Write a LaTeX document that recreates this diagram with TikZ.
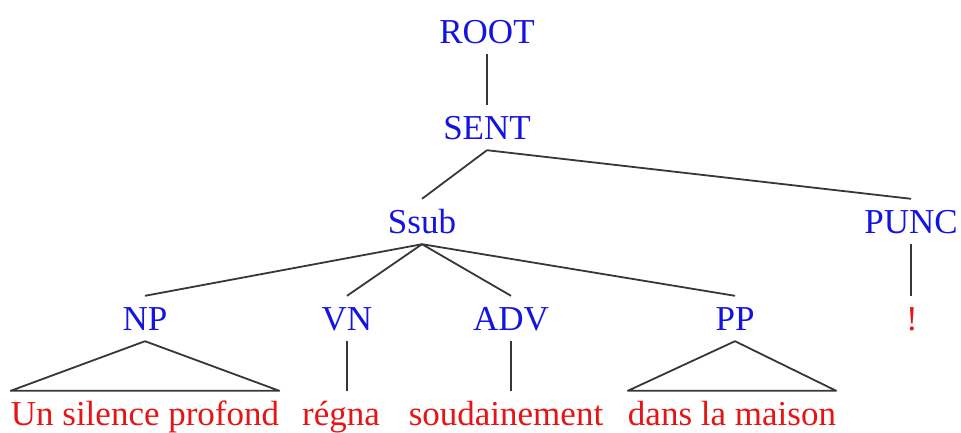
\documentclass[tikz,border=0pt]{standalone}
\usepackage{fontspec}
\setmainfont{Liberation Serif}
\usetikzlibrary{positioning, calc}

\definecolor{catblue}{RGB}{20,20,225}
\definecolor{wordred}{RGB}{230,20,20}
\definecolor{edgegray}{RGB}{55,55,55}

\begin{document}
\begin{tikzpicture}[
            x=1pt, y=-1pt,
            cat/.style={
                anchor=base,
                text=catblue,
                font=\fontsize{35}{42}\selectfont,
                text height=23pt,
                text depth=0pt,
                inner xsep=0pt,
                inner ysep=11pt
            },
            word/.style={
                cat,
                text=wordred
            },
            edge/.style={draw=edgegray, line width=1.8pt, line join=round}
        ]

        \useasboundingbox (0,0) rectangle (961,432);

        % Nodes
        \node[cat] (Root) at (487,43) {ROOT};
        \node[cat] (Sent) at (487,139) {SENT};
        \node[cat] (Ssub) at (422,233) {Ssub};
        \node[cat] (Punc) at (911,233) {PUNC};
        \node[cat] (NP) at (145,330) {NP};
        \node[cat] (VN) at (347,330) {VN};
        \node[cat] (ADV) at (511,330) {ADV};
        \node[cat] (PP) at (735,330) {PP};
        \node[word] (Excl) at (912,330) {!};
        \node[word] (Silence) at (145,425) {Un silence profond};
        \node[word] (Regna) at (341,425) {régna};
        \node[word] (Soud) at (506,425) {soudainement};
        \node[word] (Maison) at (732,425) {dans la maison};

        % Lines
        \draw[edge] (Root) -- (Sent);
        \draw[edge] (Sent.south) -- (Ssub.north);
        \draw[edge] (Sent.south) -- (Punc.north);
        \draw[edge] (Ssub.south) -- (NP.north);
        \draw[edge] (Ssub.south) -- (VN.north);
        \draw[edge] (Ssub.south) -- (ADV.north);
        \draw[edge] (Ssub.south) -- (PP.north);
        \draw[edge] (Punc.south) -- (Punc.south |- Excl.north);
        \draw[edge] (NP.south) -- (Silence.north east) -- (Silence.north west) -- cycle;
        \draw[edge] (VN.south) -- (VN.south |- Regna.north);
        \draw[edge] (ADV.south) -- (ADV.south |- Soud.north);
        \draw[edge] (PP.south) -- (Maison.north east) -- (Maison.north west) -- cycle;

\end{tikzpicture}
\end{document}
